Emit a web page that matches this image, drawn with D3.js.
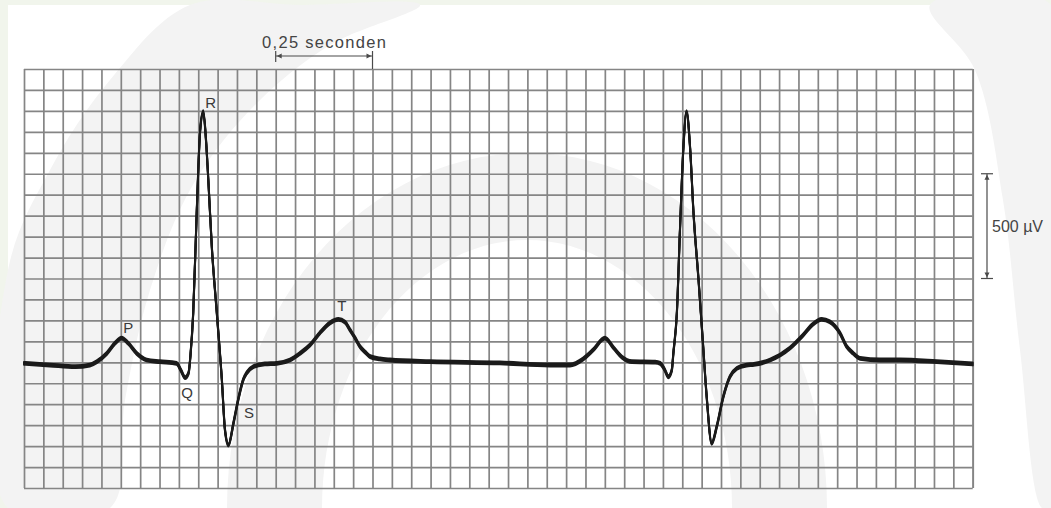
<!DOCTYPE html>
<html>
<head>
<meta charset="utf-8">
<script src="https://cdn.jsdelivr.net/npm/d3@7"></script>
<style>
  html, body { margin: 0; padding: 0; background: #ffffff; }
  svg { display: block; }
  text { font-family: "Liberation Sans", Arial, sans-serif; }
</style>
</head>
<body>
<svg id="chart" width="1051" height="508"></svg>
<script>
// ---------- DATA ----------
// ECG trace: time (s) and potential (µV)
const traceTime = [
  0.000, 0.067, 0.132, 0.170, 0.188, 0.214, 0.235, 0.252, 0.269, 0.291, 0.317, 0.351,
  0.394, 0.405, 0.416, 0.425, 0.430, 0.437, 0.446, 0.455, 0.463, 0.470, 0.476, 0.485,
  0.498, 0.511, 0.519, 0.528, 0.541, 0.553, 0.566, 0.575, 0.592, 0.622, 0.653, 0.687,
  0.713, 0.739, 0.764, 0.790, 0.812, 0.829, 0.842, 0.855, 0.868, 0.881, 0.894, 0.919,
  0.945, 1.049, 1.229, 1.358, 1.410, 1.444, 1.470, 1.500, 1.523, 1.544, 1.570, 1.630,
  1.643, 1.655, 1.664, 1.673, 1.677, 1.686, 1.694, 1.703, 1.711, 1.720, 1.729, 1.742,
  1.754, 1.763, 1.776, 1.789, 1.806, 1.823, 1.841, 1.866, 1.885, 1.927, 1.978, 2.012,
  2.035, 2.060, 2.081, 2.107, 2.125, 2.141, 2.159, 2.211, 2.262, 2.357, 2.450
];
const traceMicroV = [
  -5, -13, -21, -13, 3, 43, 91, 115, 91, 43, 11, 3,
  -5, -37, -73, -51, 35, 235, 713, 1109, 1196, 1061, 870, 552,
  235, -84, -323, -395, -290, -180, -84, -51, -21, -8, -5, 11,
  43, 83, 140, 188, 205, 192, 154, 116, 74, 49, 27, 16,
  11, 3, -3, -13, -13, 16, 59, 115, 68, 25, 3, 1,
  -5, -37, -69, -37, 44, 235, 631, 1029, 1196, 1029, 713, 393,
  74, -164, -387, -307, -164, -69, -29, -13, -10, 11, 68, 130,
  178, 205, 193, 140, 74, 44, 19, 11, 11, 3, -8
];

// wave labels and their positions (s, µV)
const waveLabels = ["P", "Q", "R", "S", "T"];
const waveLabelTime = [0.269, 0.421, 0.482, 0.581, 0.821];
const waveLabelMicroV = [164, -146, 1238, -242, 272];

// grid (paper) ticks: 0.05 s columns, 100 µV rows
const gridTimes = d3.range(0, 50).map(i => +(i * 0.05).toFixed(2));
const gridMicroV = d3.range(-600, 1401, 100);

// calibration bars
const timeBar = [0.65, 0.90];
const timeBarLabel = "0,25 seconden";
const voltBar = [400, 900];
const voltBarLabel = "500 \u00B5V";

// ---------- LAYOUT ----------
const W = 1051, H = 508;
const plot = { left: 24, right: 972.7, top: 69, bottom: 488 };
const svg = d3.select("#chart");

const x = d3.scaleLinear().domain([0, 2.45]).range([plot.left, plot.right]);
const y = d3.scaleLinear().domain([-600, 1400]).range([plot.bottom, plot.top]);

// ---------- BACKGROUND (faint watermark) ----------
svg.append("rect").attr("width", W).attr("height", H).attr("fill", "#f1f5ec");
svg.append("rect").attr("x", 8).attr("y", 5).attr("width", W - 8).attr("height", H - 5).attr("fill", "#ffffff");

const wm = svg.append("g").attr("fill", "#f3f3f3");
const blob = d3.line().curve(d3.curveCatmullRomClosed.alpha(0.5));
// left/top band
wm.append("path").attr("d", blob([
  [8, 270], [50, 170], [110, 80], [190, 5], [300, 5], [420, 5], [330, 45],
  [250, 110], [190, 190], [150, 290], [125, 400], [110, 508], [8, 508]
]));
// right band
wm.append("path").attr("d", blob([
  [930, 5], [1051, 5], [1051, 508], [1042, 508], [1020, 350], [1003, 200], [975, 70]
]));
// inner arch
function ring(cx, cy, rxo, ryo, rxi, ryi) {
  const n = 60, pts = [];
  for (let i = 0; i <= n; i++) { const a = Math.PI + Math.PI * i / n; pts.push([cx + rxo * Math.cos(a), cy + ryo * Math.sin(a)]); }
  for (let i = n; i >= 0; i--) { const a = Math.PI + Math.PI * i / n; pts.push([cx + rxi * Math.cos(a), cy + ryi * Math.sin(a)]); }
  return "M" + pts.map(d => d.join(",")).join("L") + "Z";
}
wm.append("path").attr("d", ring(527, 508, 300, 355, 205, 268));

// ---------- GRID ----------
const gridColor = "#858585";
const gx = svg.append("g")
  .attr("transform", `translate(0,${plot.bottom})`)
  .call(d3.axisBottom(x).tickValues(gridTimes.concat([2.45])).tickSize(-(plot.bottom - plot.top)).tickFormat(""));
const gy = svg.append("g")
  .attr("transform", `translate(${plot.left},0)`)
  .call(d3.axisLeft(y).tickValues(gridMicroV).tickSize(-(plot.right - plot.left)).tickFormat(""));
[gx, gy].forEach(g => {
  g.select(".domain").remove();
  g.selectAll("line").attr("stroke", gridColor).attr("stroke-width", 1.7);
});

// ---------- TRACE ----------
const pts = traceTime.map((t, i) => [t, traceMicroV[i]]);
const line = d3.line().x(d => x(d[0])).y(d => y(d[1])).curve(d3.curveMonotoneX);
const pen = svg.append("g").attr("fill", "none").attr("stroke", "#1b1b1b")
  .attr("stroke-width", 2).attr("stroke-linejoin", "round").attr("stroke-linecap", "round");
[-1.4, -0.5, 0.5, 1.4].forEach(dy => {
  pen.append("path").attr("d", line(pts)).attr("transform", `translate(0,${dy})`);
});

// ---------- WAVE LABELS ----------
svg.append("g").selectAll("text").data(waveLabels).join("text")
  .attr("x", (d, i) => x(waveLabelTime[i]))
  .attr("y", (d, i) => y(waveLabelMicroV[i]))
  .attr("text-anchor", "middle").attr("dominant-baseline", "central")
  .attr("font-size", 15).attr("fill", "#3a3a3a")
  .text(d => d);

// ---------- CALIBRATION BARS ----------
const barColor = "#4a4a4a";
const tb = svg.append("g").attr("stroke", barColor).attr("fill", barColor);
const tbY = 56;
tb.append("line").attr("x1", x(timeBar[0])).attr("x2", x(timeBar[1])).attr("y1", tbY).attr("y2", tbY).attr("stroke-width", 1.2);
tb.append("line").attr("x1", x(timeBar[0])).attr("x2", x(timeBar[0])).attr("y1", 51).attr("y2", 62).attr("stroke-width", 1.2);
tb.append("line").attr("x1", x(timeBar[1])).attr("x2", x(timeBar[1])).attr("y1", 51).attr("y2", plot.top).attr("stroke-width", 1.2);
tb.append("path").attr("stroke", "none").attr("d",
  `M${x(timeBar[0]) + 1},${tbY}l5,-2.5l0,5Z M${x(timeBar[1]) - 1},${tbY}l-5,-2.5l0,5Z`);
svg.append("text").attr("x", 262).attr("y", 48).attr("font-size", 16.5).attr("fill", "#444")
  .attr("textLength", 124).attr("lengthAdjust", "spacing").text(timeBarLabel);

const vb = svg.append("g").attr("stroke", barColor).attr("fill", barColor);
const vbX = 987;
vb.append("line").attr("x1", vbX).attr("x2", vbX).attr("y1", y(voltBar[1])).attr("y2", y(voltBar[0])).attr("stroke-width", 1.2);
vb.append("line").attr("x1", vbX - 6).attr("x2", vbX + 6).attr("y1", y(voltBar[1])).attr("y2", y(voltBar[1])).attr("stroke-width", 1.2);
vb.append("line").attr("x1", vbX - 6).attr("x2", vbX + 6).attr("y1", y(voltBar[0])).attr("y2", y(voltBar[0])).attr("stroke-width", 1.2);
vb.append("path").attr("stroke", "none").attr("d",
  `M${vbX},${y(voltBar[1]) + 1}l-2.5,5l5,0Z M${vbX},${y(voltBar[0]) - 1}l-2.5,-5l5,0Z`);
svg.append("text").attr("x", 992).attr("y", y((voltBar[0] + voltBar[1]) / 2)).attr("dominant-baseline", "central")
  .attr("font-size", 16).attr("fill", "#444").text(voltBarLabel);
</script>
</body>
</html>
